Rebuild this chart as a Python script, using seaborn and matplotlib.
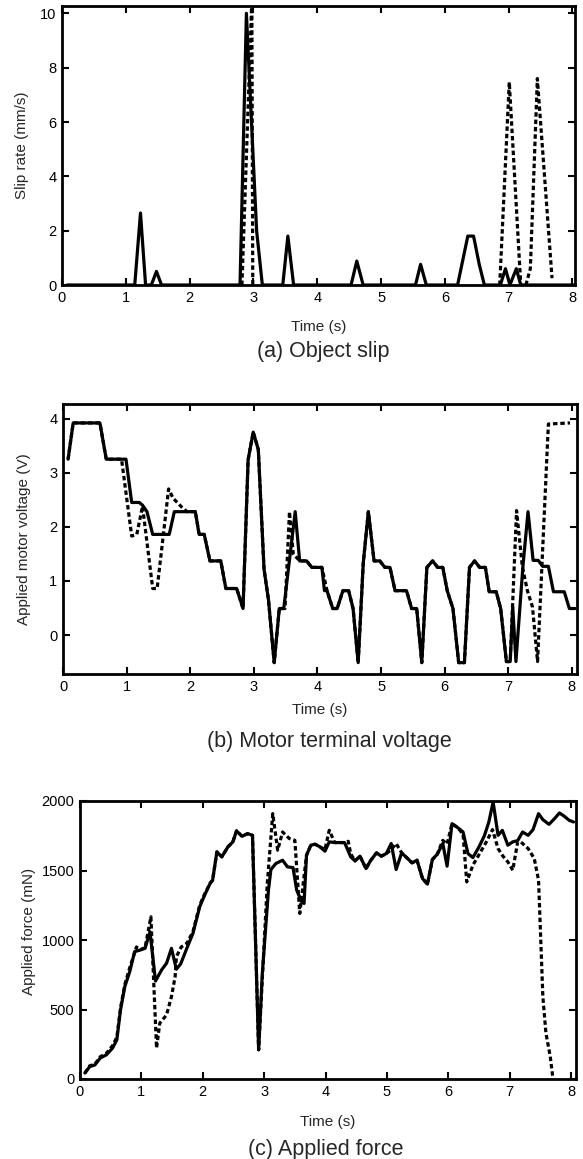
import matplotlib
matplotlib.use("Agg")
import matplotlib.pyplot as plt
import seaborn as sns
import pandas as pd

# ---------------- data ----------------
# (a) Object slip, mm/s
slip_t_solid = [0.08, 1.14, 1.23, 1.31, 1.40, 1.48, 1.56, 2.79, 2.89, 3.05, 3.14,
                3.46, 3.54, 3.63, 4.53, 4.62, 4.72, 5.54, 5.62, 5.71, 6.20, 6.36,
                6.45, 6.54, 6.62, 6.87, 6.95, 7.02, 7.12, 7.19, 8.03]
slip_v_solid = [0, 0, 2.65, 0, 0, 0.5, 0, 0, 10.0, 2.0, 0,
                0, 1.8, 0, 0, 0.88, 0, 0, 0.76, 0, 0, 1.8,
                1.8, 0.75, 0, 0, 0.6, 0, 0.6, 0, 0]
# dashed trial: two slip episodes (its zero baseline hides under the axis)
slip_t_dash = [2.82, 2.975, 2.99, 6.86, 7.01, 7.19, 7.27, 7.34, 7.45, 7.68]
slip_v_dash = [0, 10.5, 0, 0, 7.47, 0, 0, 0.6, 7.6, 0.25]
slip_seg_dash = [1, 1, 1, 2, 2, 2, 3, 3, 3, 3]

# (b) Motor terminal voltage, V
volt_t_solid = [0.08, 0.16, 0.58, 0.68, 0.99, 1.08, 1.20, 1.25, 1.32, 1.41, 1.67, 1.75,
                2.08, 2.14, 2.22, 2.31, 2.48, 2.56, 2.73, 2.83, 2.91, 2.99, 3.07, 3.16,
                3.23, 3.32, 3.40, 3.47, 3.65, 3.72, 3.83, 3.91, 4.07, 4.11, 4.15, 4.24,
                4.31, 4.40, 4.49, 4.56, 4.64, 4.72, 4.80, 4.89, 4.98, 5.06, 5.14, 5.22,
                5.40, 5.48, 5.56, 5.64, 5.72, 5.81, 5.89, 5.97, 6.04, 6.13, 6.22, 6.31,
                6.39, 6.47, 6.55, 6.64, 6.70, 6.81, 6.88, 6.97, 7.03, 7.07, 7.12, 7.23,
                7.31, 7.39, 7.47, 7.54, 7.63, 7.71, 7.88, 7.96, 8.05]
volt_v_solid = [3.25, 3.92, 3.92, 3.25, 3.25, 2.45, 2.45, 2.40, 2.28, 1.86, 1.86, 2.28,
                2.28, 1.86, 1.86, 1.37, 1.37, 0.86, 0.86, 0.49, 3.24, 3.75, 3.43, 1.22,
                0.65, -0.51, 0.49, 0.49, 2.28, 1.37, 1.37, 1.25, 1.25, 0.82, 0.82, 0.49,
                0.49, 0.82, 0.82, 0.49, -0.51, 1.33, 2.28, 1.37, 1.37, 1.25, 1.25, 0.82,
                0.82, 0.49, 0.49, -0.51, 1.25, 1.37, 1.25, 1.25, 0.82, 0.49, -0.51, -0.51,
                1.25, 1.37, 1.25, 1.25, 0.80, 0.80, 0.49, -0.49, -0.49, 0.52, -0.49, 1.27,
                2.28, 1.38, 1.38, 1.27, 1.27, 0.80, 0.80, 0.49, 0.49]
volt_t_dash = [0.08, 0.16, 0.58, 0.68, 0.92, 1.08, 1.16, 1.25, 1.41, 1.48, 1.58, 1.66,
               1.73, 1.87, 1.95, 2.08, 2.14, 2.22, 2.31, 2.48, 2.56, 2.73, 2.83, 2.91,
               2.99, 3.07, 3.16, 3.23, 3.32, 3.40, 3.49, 3.56, 3.62, 3.72, 3.83, 3.91,
               4.07, 4.15, 4.24, 4.31, 4.40, 4.49, 4.56, 4.64, 4.72, 4.80, 4.89, 4.98,
               5.06, 5.14, 5.22, 5.40, 5.48, 5.56, 5.64, 5.72, 5.81, 5.89, 5.97, 6.04,
               6.13, 6.22, 6.31, 6.39, 6.47, 6.55, 6.64, 6.70, 6.81, 6.88, 6.97, 7.03,
               7.13, 7.22, 7.30, 7.38, 7.46, 7.63, 7.97]
volt_v_dash = [3.25, 3.92, 3.92, 3.25, 3.25, 1.83, 1.86, 2.38, 0.86, 0.86, 1.88, 2.70,
               2.53, 2.36, 2.28, 2.28, 1.86, 1.86, 1.37, 1.37, 0.86, 0.86, 0.49, 3.24,
               3.75, 3.43, 1.22, 0.65, -0.51, 0.49, 0.49, 2.28, 1.50, 1.37, 1.37, 1.25,
               1.25, 0.82, 0.49, 0.49, 0.82, 0.82, 0.49, -0.51, 1.33, 2.28, 1.37, 1.37,
               1.25, 1.25, 0.82, 0.82, 0.49, 0.49, -0.51, 1.25, 1.37, 1.25, 1.25, 0.82,
               0.49, -0.51, -0.51, 1.25, 1.37, 1.25, 1.25, 0.80, 0.80, 0.49, -0.49, -0.49,
               2.30, 1.27, 0.82, 0.52, -0.49, 3.90, 3.92]

# (c) Applied force, mN
force_t_solid = [0.08, 0.16, 0.24, 0.33, 0.43, 0.53, 0.60, 0.66, 0.73, 0.81, 0.89, 0.98,
                 1.06, 1.14, 1.23, 1.33, 1.41, 1.49, 1.57, 1.64, 1.74, 1.84, 1.95, 2.03,
                 2.12, 2.16, 2.23, 2.31, 2.41, 2.49, 2.55, 2.64, 2.73, 2.81, 2.91, 2.97,
                 3.07, 3.11, 3.19, 3.30, 3.38, 3.47, 3.53, 3.61, 3.65, 3.69, 3.76, 3.83,
                 3.91, 3.99, 4.06, 4.15, 4.31, 4.41, 4.48, 4.56, 4.66, 4.73, 4.83, 4.91,
                 4.99, 5.07, 5.15, 5.24, 5.32, 5.41, 5.49, 5.58, 5.66, 5.74, 5.82, 5.91,
                 5.98, 6.06, 6.16, 6.24, 6.32, 6.40, 6.50, 6.59, 6.66, 6.73, 6.81, 6.88,
                 6.97, 7.05, 7.13, 7.21, 7.30, 7.38, 7.47, 7.54, 7.64, 7.73, 7.81, 7.89,
                 7.97, 8.04]
force_v_solid = [43, 90, 100, 151, 174, 222, 282, 497, 665, 772, 916, 928,
                 940, 1060, 705, 785, 833, 940, 790, 828, 940, 1048, 1239, 1323,
                 1407, 1430, 1634, 1598, 1670, 1706, 1785, 1746, 1765, 1753, 210, 761,
                 1359, 1507, 1550, 1574, 1526, 1521, 1359, 1275, 1263, 1610, 1682, 1689,
                 1670, 1639, 1706, 1701, 1701, 1598, 1569, 1603, 1514, 1569, 1627, 1603,
                 1622, 1694, 1507, 1627, 1593, 1555, 1574, 1442, 1402, 1579, 1617, 1694,
                 1531, 1837, 1806, 1777, 1622, 1593, 1670, 1753, 1849, 1993, 1753, 1789,
                 1682, 1706, 1715, 1777, 1753, 1794, 1909, 1866, 1832, 1873, 1914, 1890,
                 1861, 1849]
force_t_dash = [0.08, 0.16, 0.24, 0.33, 0.43, 0.53, 0.60, 0.66, 0.73, 0.81, 0.92, 0.98,
                1.06, 1.155, 1.247, 1.30, 1.41, 1.49, 1.55, 1.57, 1.65, 1.74, 1.84, 1.95,
                2.03, 2.12, 2.16, 2.23, 2.31, 2.41, 2.49, 2.55, 2.64, 2.73, 2.81, 2.91,
                3.05, 3.14, 3.22, 3.30, 3.41, 3.50, 3.58, 3.69, 3.76, 3.83, 3.91, 3.99,
                4.06, 4.15, 4.31, 4.37, 4.41, 4.48, 4.56, 4.66, 4.73, 4.83, 4.91, 4.99,
                5.07, 5.15, 5.24, 5.32, 5.41, 5.49, 5.58, 5.66, 5.74, 5.82, 5.91, 5.98,
                6.06, 6.16, 6.24, 6.30, 6.40, 6.51, 6.62, 6.72, 6.81, 6.89, 6.97, 7.05,
                7.13, 7.18, 7.30, 7.40, 7.47, 7.50, 7.54, 7.59, 7.66, 7.70]
force_v_dash = [43, 96, 105, 160, 185, 240, 300, 510, 680, 800, 950, 930,
                945, 1167, 222, 402, 461, 593, 737, 880, 950, 976, 1060, 1250,
                1330, 1410, 1430, 1634, 1598, 1670, 1706, 1785, 1746, 1765, 1753, 210,
                1400, 1909, 1646, 1777, 1730, 1717, 1191, 1610, 1682, 1689, 1670, 1650,
                1789, 1701, 1701, 1710, 1620, 1569, 1603, 1514, 1569, 1627, 1603, 1622,
                1650, 1694, 1627, 1593, 1555, 1574, 1442, 1402, 1579, 1617, 1717, 1690,
                1837, 1806, 1760, 1418, 1538, 1622, 1706, 1794, 1658, 1603, 1562, 1502,
                1706, 1706, 1658, 1586, 1430, 1072, 593, 330, 163, 19]

x_ticks = [0, 1, 2, 3, 4, 5, 6, 7, 8]
slip_yticks = [0, 2, 4, 6, 8, 10]
volt_yticks = [0, 1, 2, 3, 4]
force_yticks = [0, 500, 1000, 1500, 2000]

# ---------------- style ----------------
sns.set_theme(style="ticks")
plt.rcParams['font.family'] = ['Liberation Sans', 'DejaVu Sans']
plt.rcParams['axes.linewidth'] = 2.0

fig = plt.figure(figsize=(5.83, 11.59), dpi=100)

W, H = 583.0, 1159.0


def make_ax(l, t, r, b):
    return fig.add_axes([l / W, 1 - b / H, (r - l) / W, (b - t) / H])


ax1 = make_ax(62, 6, 575, 285)
ax2 = make_ax(63, 404, 577, 674)
ax3 = make_ax(80, 801, 576, 1079)

LW = 2.3
DASH = (0, (1.4, 0.9))


def draw(ax, t, v, dashed=False, seg=None):
    df = pd.DataFrame({"t": t, "v": v, "seg": seg if seg is not None else [0] * len(t)})
    kw = dict(color="black", linewidth=LW)
    if dashed:
        kw["linestyle"] = DASH
    sns.lineplot(data=df, x="t", y="v", units="seg", ax=ax, sort=False,
                 estimator=None, **kw)


draw(ax1, slip_t_solid, slip_v_solid)
draw(ax1, slip_t_dash, slip_v_dash, dashed=True, seg=slip_seg_dash)
draw(ax2, volt_t_solid, volt_v_solid)
draw(ax2, volt_t_dash, volt_v_dash, dashed=True)
draw(ax3, force_t_solid, force_v_solid)
draw(ax3, force_t_dash, force_v_dash, dashed=True)

setup = [
    (ax1, (0, 8.04), (0, 10.27), slip_yticks, "Slip rate (mm/s)", -0.124, -0.065, 0.5),
    (ax2, (0, 8.08), (-0.72, 4.27), volt_yticks, "Applied motor voltage (V)", -0.109, -0.063, 0.5),
    (ax3, (0, 8.08), (0, 2000), force_yticks, "Applied force (mN)", -0.128, -0.089, 0.53),
]
for ax, xl, yl, yt, ylab, xly, ylx, yly in setup:
    ax.set_xlim(*xl)
    ax.set_ylim(*yl)
    ax.set_xticks(x_ticks)
    ax.set_yticks(yt)
    ax.tick_params(direction="in", length=5, width=1.5, top=True, right=True,
                   labelsize=10.5, pad=4, colors="black")
    for s in ax.spines.values():
        s.set_linewidth(2.0)
        s.set_color("black")
        s.set_visible(True)
    ax.set_xlabel("Time (s)", fontsize=11)
    ax.set_ylabel(ylab, fontsize=11)
    ax.xaxis.set_label_coords(0.5, xly)
    ax.yaxis.set_label_coords(ylx, yly)

fig.text(323 / W, 1 - 352 / H, "(a) Object slip", ha="center", va="center", fontsize=15.5)
fig.text(329 / W, 1 - 741 / H, "(b) Motor terminal voltage", ha="center", va="center", fontsize=15.5)
fig.text(326 / W, 1 - 1150 / H, "(c) Applied force", ha="center", va="center", fontsize=15.5)

fig.savefig("out.png", dpi=100)
